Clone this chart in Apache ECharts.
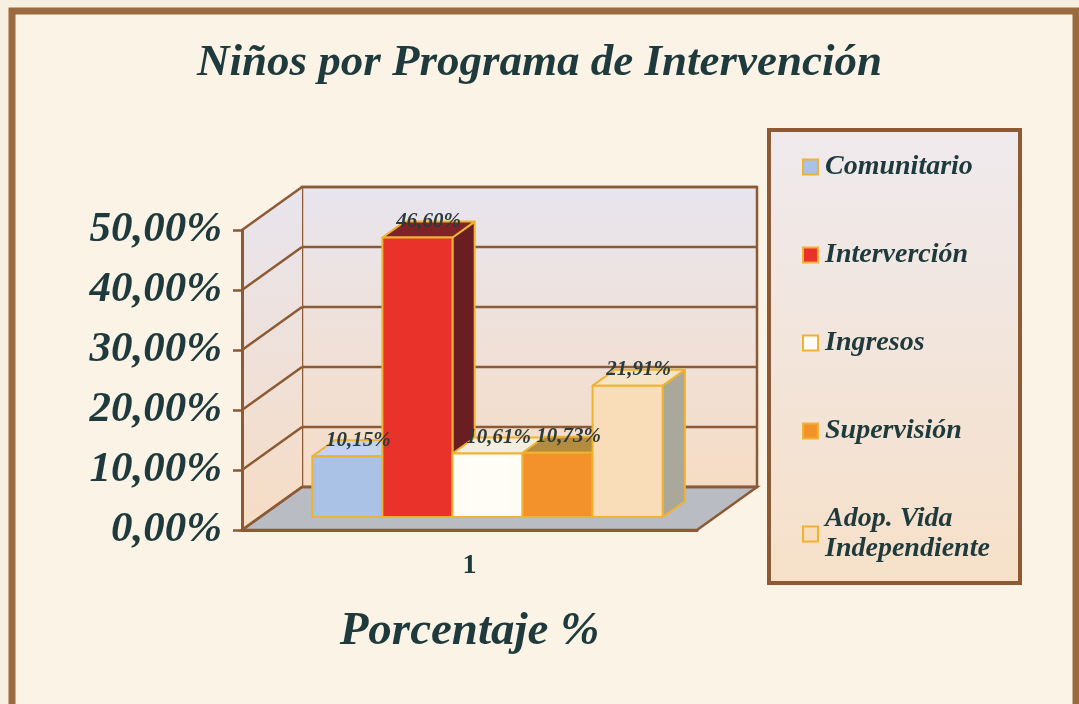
<!DOCTYPE html>
<html>
<head>
<meta charset="utf-8">
<script src="https://cdn.jsdelivr.net/npm/echarts@6/dist/echarts.min.js"></script>
<style>
  html, body { margin: 0; padding: 0; background: #f7efe0; }
  #chart { width: 1079px; height: 704px; }
</style>
</head>
<body>
<div id="chart"></div>
<script>
// categoria del eje x y programas
const categories = ['1'];
const seriesNames = ['Comunitario', 'Interverción', 'Ingresos', 'Supervisión', 'Adop. Vida Independiente'];
const seriesValues = [10.15, 46.60, 10.61, 10.73, 21.91];
const yTicks = [0, 10, 20, 30, 40, 50];

// colores de cada barra: frente, lado, tapa
const faceColors = [
  { front: '#a9c2e6', side: '#8ea4c4', top: '#c3d4ee' },
  { front: '#e8322a', side: '#6a1e22', top: '#7e2426' },
  { front: '#fffdf6', side: '#e8e0d0', top: '#f4eede' },
  { front: '#f3922a', side: '#b06a20', top: '#b48c3e' },
  { front: '#f8ddb8', side: '#a9a89a', top: '#f6e4c6' }
];

const textColor = '#1f3a3d';
const frameColor = '#8c5a34';
const depthX = 60, depthY = -43;     // profundidad del "3D"
const barPos = 0.3, barDepth = 0.37; // barras dentro del piso

function fmtPct(v) {
  return v.toFixed(2).replace('.', ',') + '%';
}

const chart = echarts.init(document.getElementById('chart'), null, { renderer: 'canvas' });

// paredes, piso y lineas de la grilla
function renderWalls(params, api) {
  const band = api.size([1, 0])[0];
  const c0 = api.coord([0, 0]);
  const xl = c0[0] - band / 2, xr = c0[0] + band / 2;
  const yb = c0[1];
  const yt = api.coord([0, yTicks[yTicks.length - 1]])[1];
  const wallFill = new echarts.graphic.LinearGradient(0, 0, 0, 1, [
    { offset: 0, color: '#e8e5ee' }, { offset: 1, color: '#f6dcc4' }
  ]);
  const line = { stroke: frameColor, lineWidth: 2.5 };
  const children = [
    { type: 'polygon', shape: { points: [[xl + depthX, yt + depthY], [xr + depthX, yt + depthY], [xr + depthX, yb + depthY], [xl + depthX, yb + depthY]] },
      style: { fill: wallFill, stroke: frameColor, lineWidth: 2.5 } },
    { type: 'polygon', shape: { points: [[xl, yt], [xl + depthX, yt + depthY], [xl + depthX, yb + depthY], [xl, yb]] },
      style: { fill: wallFill } },
    { type: 'polygon', shape: { points: [[xl, yb], [xr, yb], [xr + depthX, yb + depthY], [xl + depthX, yb + depthY]] },
      style: { fill: '#b9bcc3', stroke: frameColor, lineWidth: 2.5 } }
  ];
  yTicks.forEach(function (t) {
    const y = api.coord([0, t])[1];
    children.push({ type: 'line', shape: { x1: xl, y1: y, x2: xl + depthX, y2: y + depthY }, style: line });
    children.push({ type: 'line', shape: { x1: xl + depthX, y1: y + depthY, x2: xr + depthX, y2: y + depthY }, style: line });
  });
  return { type: 'group', children: children };
}

// barra 3D
function renderBar(params, api) {
  const idx = params.seriesIndex - 1;
  const band = api.size([1, 0])[0];
  const barW = band * 0.154;
  const gap = (band - barW * seriesValues.length) / 2;
  const c0 = api.coord([0, 0]);
  const ct = api.coord([0, api.value(1)]);
  const ox = depthX * barPos, oy = depthY * barPos;
  const bx = depthX * barDepth, by = depthY * barDepth;
  const x0 = c0[0] - band / 2 + gap + idx * barW + ox;
  const x1 = x0 + barW;
  const y0 = c0[1] + oy, y1 = ct[1] + oy;
  const col = faceColors[idx];
  const edge = { stroke: '#f0b232', lineWidth: 2, lineJoin: 'round' };
  return {
    type: 'group',
    children: [
      { type: 'polygon', shape: { points: [[x1, y0], [x1 + bx, y0 + by], [x1 + bx, y1 + by], [x1, y1]] },
        style: Object.assign({ fill: col.side }, edge) },
      { type: 'polygon', shape: { points: [[x0, y1], [x1, y1], [x1 + bx, y1 + by], [x0 + bx, y1 + by]] },
        style: Object.assign({ fill: col.top }, edge) },
      { type: 'rect', shape: { x: x0, y: y1, width: barW, height: y0 - y1 },
        style: Object.assign({ fill: col.front }, edge) },
      { type: 'text', x: (x0 + x1) / 2 + bx / 2, y: y1 + by, z2: 10,
        style: { text: fmtPct(api.value(1)), fill: '#2b3a3c', align: 'center', verticalAlign: 'middle',
          font: 'italic bold 21px "Liberation Serif"' } }
    ]
  };
}

const series = [{
  name: 'walls',
  type: 'custom',
  renderItem: renderWalls,
  data: [[0, 0]],
  clip: false,
  silent: true,
  z: 1
}];
seriesNames.forEach(function (name, i) {
  series.push({
    name: name,
    type: 'custom',
    renderItem: renderBar,
    data: [[0, seriesValues[i]]],
    clip: false,
    z: 3,
    itemStyle: { color: faceColors[i].front, borderColor: '#f0b232', borderWidth: 2 }
  });
});

const option = {
  backgroundColor: '#f7efe0',
  animation: false,
  title: {
    text: 'Niños por Programa de Intervención',
    left: 'center',
    top: 36,
    textStyle: { fontFamily: 'Liberation Serif', fontStyle: 'italic', fontWeight: 'bold', fontSize: 45, color: textColor }
  },
  graphic: [
    { type: 'rect', z: -10, shape: { x: 12, y: 11, width: 1064, height: 700 },
      style: { fill: '#faf3e6', stroke: '#9a6a40', lineWidth: 7 } },
    { type: 'rect', z: 0, shape: { x: 769, y: 130, width: 251, height: 453 },
      style: {
        fill: new echarts.graphic.LinearGradient(0, 0, 0, 1, [
          { offset: 0, color: '#efeaee' }, { offset: 1, color: '#f6e0c8' }
        ]),
        stroke: frameColor, lineWidth: 4
      } }
  ],
  legend: {
    data: seriesNames,
    orient: 'vertical',
    left: 797,
    top: 147,
    itemWidth: 15,
    itemHeight: 15,
    itemGap: 58,
    icon: 'rect',
    z: 5,
    formatter: function (name) {
      return name === 'Adop. Vida Independiente' ? 'Adop. Vida\nIndependiente' : name;
    },
    textStyle: { fontFamily: 'Liberation Serif', fontStyle: 'italic', fontWeight: 'bold', fontSize: 28,
      lineHeight: 30, color: textColor, padding: [0, 0, 0, 2] }
  },
  grid: { left: 242, top: 230, width: 455, height: 300, containLabel: false, outerBoundsMode: 'none' },
  xAxis: {
    type: 'category',
    data: categories,
    name: 'Porcentaje %',
    nameLocation: 'middle',
    nameGap: 78,
    nameTextStyle: { fontFamily: 'Liberation Serif', fontStyle: 'italic', fontWeight: 'bold', fontSize: 47, color: textColor },
    axisLine: { show: true, lineStyle: { color: frameColor, width: 3 } },
    axisTick: { show: false },
    axisLabel: { margin: 22, fontFamily: 'Liberation Serif', fontWeight: 'bold', fontSize: 28, color: textColor },
    z: 4
  },
  yAxis: {
    type: 'value',
    min: 0,
    max: 50,
    interval: 10,
    axisLine: { show: true, lineStyle: { color: frameColor, width: 3 } },
    axisTick: { show: true, length: 9, lineStyle: { color: frameColor, width: 2.5 } },
    splitLine: { show: false },
    axisLabel: {
      margin: 20,
      formatter: fmtPct,
      fontFamily: 'Liberation Serif', fontStyle: 'italic', fontWeight: 'bold', fontSize: 43, color: textColor
    },
    z: 4
  },
  series: series
};

chart.setOption(option);
</script>
</body>
</html>
